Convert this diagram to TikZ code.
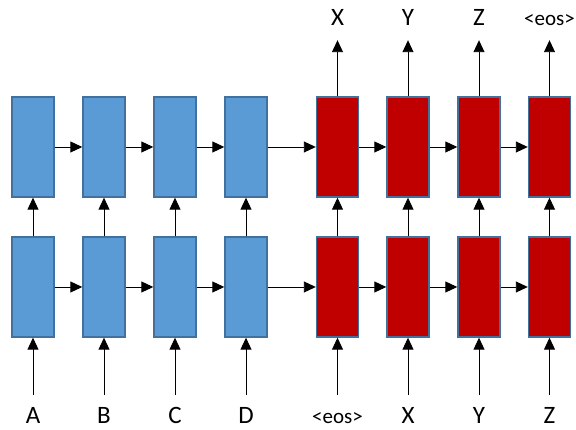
\documentclass[tikz,border=0pt]{standalone}
\usepackage{fontspec}
\setmainfont{Carlito}
\usetikzlibrary{arrows.meta}
\definecolor{enc_blue}{HTML}{5B9BD5}
\definecolor{dec_red}{HTML}{C00000}
\definecolor{cell_edge}{HTML}{41719C}

\begin{document}
\begin{tikzpicture}[x=1pt, y=1pt,
    enc/.style={draw=cell_edge, line width=1.4pt, fill=enc_blue,
      minimum width=42pt, minimum height=100pt, inner sep=0pt},
    dec/.style={enc, fill=dec_red},
    link/.style={line width=0.9pt, -{Triangle[length=12pt, width=11pt]}},
    tok/.style={font=\fontsize{25}{28}\selectfont, inner sep=0pt,
      text height=17pt, text depth=4pt, anchor=base},
    eos/.style={tok, font=\fontsize{21}{24}\selectfont}]
    % page: 576 x 430
    \useasboundingbox (0,0) rectangle (576,430);

    % Encoder cells (two layers) and input tokens
    \foreach \i/\x/\t in {1/33/A, 2/104/B, 3/175/C, 4/246/D} {
      \node[enc] (lo\i) at (\x,143) {};
      \node[enc] (hi\i) at (\x,283) {};
      \node[tok] (in\i) at (\x,6) {\t};
    }

    % Decoder cells, inputs and outputs
    \foreach \i/\x in {5/337.5, 6/408, 7/479, 8/549.5} {
      \node[dec] (lo\i) at (\x,143) {};
      \node[dec] (hi\i) at (\x,283) {};
    }
    \node[eos] (in5) at (337.5,6) {<eos>};
    \node[tok] (in6) at (408,6) {X};
    \node[tok] (in7) at (479,6) {Y};
    \node[tok] (in8) at (549.5,6) {Z};
    \node[tok] (out5) at (337.5,404) {X};
    \node[tok] (out6) at (408,404) {Y};
    \node[tok] (out7) at (479,404) {Z};
    \node[eos] (out8) at (549.5,404) {<eos>};

    % Recurrent links
    \foreach \i [evaluate=\i as \j using int(\i+1)] in {1,...,7} {
      \draw[link] (lo\i) -- (lo\j);
      \draw[link] (hi\i) -- (hi\j);
    }

    % Vertical links
    \foreach \i in {1,...,8} {
      \draw[link, shorten <=12pt] (in\i) -- (lo\i);
      \draw[link] (lo\i) -- (hi\i);
    }
    \foreach \i in {5,...,8}
      \draw[link, shorten >=10pt] (hi\i) -- (out\i);
\end{tikzpicture}
\end{document}
